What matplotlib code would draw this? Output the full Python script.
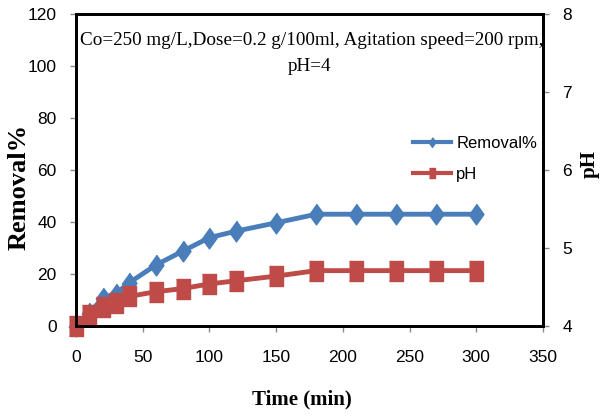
import numpy as np
import matplotlib.pyplot as plt

# data
time = [0, 10, 20, 30, 40, 60, 80, 100, 120, 150, 180, 210, 240, 270, 300]
removal = [0, 5, 10.8, 12.5, 16.7, 23.5, 28.8, 34, 36.5, 39.7, 43, 43, 43, 43, 43]
ph = [4.0, 4.14, 4.25, 4.30, 4.38, 4.44, 4.48, 4.54, 4.58, 4.64, 4.71, 4.71, 4.71, 4.71, 4.71]

blue = '#4A7EBB'
red = '#BE4B48'
sans = 'Liberation Sans'

# tall diamond and tall square markers (picture is stretched vertically)
diamond = [(0, 1), (0.72, 0), (0, -1), (-0.72, 0)]
box = [(-0.72, -1), (0.72, -1), (0.72, 1), (-0.72, 1)]

fig = plt.figure(figsize=(6.01, 4.16), dpi=100)
ax = fig.add_axes([0.1265, 0.2163, 0.777, 0.75])
ax2 = ax.twinx()

l1, = ax.plot(time, removal, color=blue, lw=3.5, marker=diamond, ms=15,
              label='Removal%', clip_on=False)
l2, = ax2.plot(time, ph, color=red, lw=3.5, marker=box, ms=14.5,
               label='pH', clip_on=False)

ax.set_xlim(0, 350)
ax.set_ylim(0, 120)
ax2.set_ylim(4, 8)
ax.set_xticks(range(0, 351, 50))
ax.set_yticks(range(0, 121, 20))
ax2.set_yticks([4, 5, 6, 7, 8])

for a in (ax, ax2):
    for lab in a.get_xticklabels() + a.get_yticklabels():
        lab.set_fontfamily(sans)
        lab.set_fontsize(12.5)
    a.tick_params(direction='out', length=4, color='#888888', width=1)
    for s in a.spines.values():
        s.set_linewidth(2)
        s.set_color('black')
ax.tick_params(axis='x', pad=13)
ax.tick_params(axis='y', pad=10)
ax2.tick_params(axis='y', pad=10)

ax.set_xlabel('Time (min)', family='Liberation Serif', fontsize=15, weight='bold')
ax.xaxis.set_label_coords(0.484, -0.205)
ax.set_ylabel('Removal%', family='Liberation Serif', fontsize=19, weight='bold')
ax.yaxis.set_label_coords(-0.097, 0.4455)
ax2.set_ylabel('pH', family='Liberation Serif', fontsize=15, weight='bold')
ax2.yaxis.set_label_coords(1.079, 0.519)

ax.text(0.504, 0.9167, 'Co=250 mg/L,Dose=0.2 g/100ml, Agitation speed=200 rpm,',
        transform=ax.transAxes, ha='center', va='center',
        family='Liberation Serif', fontsize=13.8)
ax.text(0.5, 0.8333, 'pH=4', transform=ax.transAxes, ha='center', va='center',
        family='Liberation Serif', fontsize=13.8)

leg = ax2.legend(handles=[l1, l2], loc='upper left',
                 bbox_to_anchor=(413 / 601, 1 - 136 / 416),
                 bbox_transform=fig.transFigure, frameon=False,
                 prop={'family': sans, 'size': 12}, borderpad=0,
                 borderaxespad=0, handlelength=2.3, handletextpad=0.3,
                 labelspacing=0.95)
for h in leg.legend_handles:
    h.set_markersize(7)
    h.set_linewidth(3)

fig.savefig('out.png', dpi=100)
